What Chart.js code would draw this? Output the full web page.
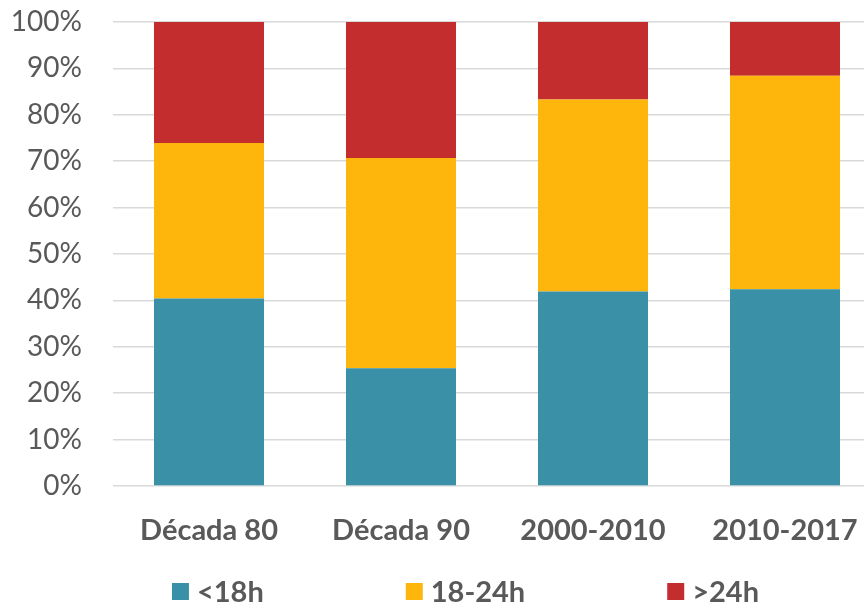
<!DOCTYPE html>
<html lang="es">
<head>
<meta charset="utf-8">
<title>Duración por década</title>
<script src="https://cdn.jsdelivr.net/npm/chart.js"></script>
<style>
  html, body { margin: 0; padding: 0; background: #fff; overflow: hidden; }
  .chart-wrap { position: relative; width: 881px; height: 604px; }
</style>
</head>
<body>
<div class="chart-wrap"><canvas id="chart1"></canvas></div>
<script>
// Datos: porcentaje de cada franja horaria por periodo
const categorias = ['Década 80', 'Década 90', '2000-2010', '2010-2017'];
const menos18h = [40.4, 25.4, 41.9, 42.4];
const entre18y24h = [33.5, 45.3, 41.4, 46.0];
const mas24h = [26.1, 29.3, 16.7, 11.6];
const nombresSeries = ['<18h', '18-24h', '>24h'];
const coloresSeries = ['#3a90a7', '#ffb60c', '#c32d2e'];
const pasoEjeY = 10;

const grisTexto = '#595959';
const fuente = 'Lato, "Open Sans", sans-serif';

// Leyenda propia: cuadrados pequeños y separación amplia entre elementos
const leyendaInferior = {
    id: 'leyendaInferior',
    afterDraw(chart) {
        const ctx = chart.ctx;
        const caja = 17, hueco = 8, separacion = 142;
        const yCentro = 591.5;
        ctx.save();
        ctx.font = 'bold 29px ' + fuente;
        ctx.textBaseline = 'middle';
        ctx.textAlign = 'left';

        const items = chart.data.datasets.map(ds => ({
            texto: ds.label,
            color: ds.backgroundColor,
            ancho: caja + hueco + ctx.measureText(ds.label).width
        }));
        const total = items.reduce((s, it) => s + it.ancho, 0) + separacion * (items.length - 1);
        let x = chart.width / 2 + 25 - total / 2;

        items.forEach(it => {
            ctx.fillStyle = it.color;
            ctx.fillRect(x, yCentro - caja / 2, caja, caja);
            ctx.fillStyle = grisTexto;
            ctx.fillText(it.texto, x + caja + hueco, yCentro + 1);
            x += it.ancho + separacion;
        });
        ctx.restore();
    }
};

const valoresSeries = [menos18h, entre18y24h, mas24h];

const ctx1 = document.getElementById('chart1');
new Chart(ctx1, {
    type: 'bar',
    data: {
        labels: categorias,
        datasets: nombresSeries.map((nombre, i) => ({
            label: nombre,
            data: valoresSeries[i],
            backgroundColor: coloresSeries[i],
            borderWidth: 0,
            barPercentage: 0.573,
            categoryPercentage: 1
        }))
    },
    options: {
        responsive: true,
        maintainAspectRatio: false,
        animation: false,
        layout: { padding: { top: 22, right: 0, bottom: 0, left: 0 } },
        plugins: {
            legend: { display: false },
            tooltip: { enabled: false }
        },
        scales: {
            x: {
                stacked: true,
                grid: { display: false },
                border: { display: false },
                ticks: {
                    color: grisTexto,
                    padding: 19,
                    maxRotation: 0,
                    font: { family: fuente, size: 29, weight: 'bold' }
                },
                afterFit: (scale) => {
                    scale.height = 118;
                    scale.paddingLeft = 0;
                    scale.paddingRight = 0;
                }
            },
            y: {
                stacked: true,
                min: 0,
                max: 100,
                grid: { color: '#d9d9d9', lineWidth: 1.5, drawTicks: false },
                border: { display: false },
                ticks: {
                    stepSize: pasoEjeY,
                    color: grisTexto,
                    padding: 31,
                    font: { family: fuente, size: 28 },
                    callback: (v) => v + '%'
                },
                afterFit: (scale) => {
                    scale.width = 113;
                    scale.paddingTop = 0;
                    scale.paddingBottom = 0;
                }
            }
        }
    },
    plugins: [leyendaInferior]
});
</script>
</body>
</html>
